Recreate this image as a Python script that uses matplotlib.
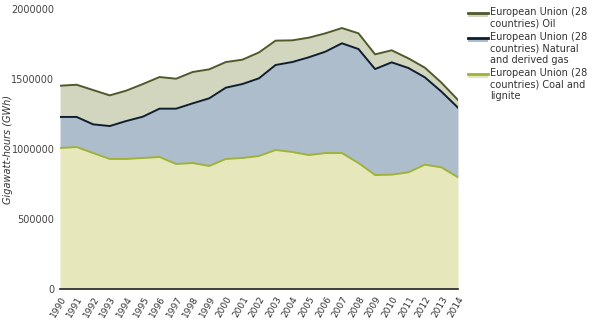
import matplotlib
matplotlib.use("Agg")
import matplotlib.pyplot as plt
from matplotlib.patches import Rectangle
from matplotlib.lines import Line2D
import numpy as np

years = list(range(1990, 2015))

# Gross electricity generation by fuel, EU-28 (GWh)
coal = [1007000, 1014000, 971000, 929000, 929000, 936000, 943000, 893000, 900000,
        879000, 929000, 936000, 950000, 993000, 979000, 957000, 971000, 971000,
        900000, 814000, 817000, 833000, 888000, 869000, 798000]
gas = [222000, 215000, 205000, 235000, 271000, 295000, 345000, 395000, 426000,
       483000, 509000, 528000, 555000, 607000, 642000, 698000, 724000, 784000,
       814000, 757000, 802000, 746000, 624000, 541000, 497000]
oil = [223000, 230000, 245000, 219000, 217000, 233000, 226000, 214000, 224000,
       207000, 183000, 174000, 185000, 174000, 155000, 140000, 131000, 109000,
       112000, 105000, 86000, 69000, 69000, 64000, 55000]

labels = ["European Union (28\ncountries) Oil",
          "European Union (28\ncountries) Natural\nand derived gas",
          "European Union (28\ncountries) Coal and\nlignite"]
y_label = "Gigawatt-hours (GWh)"

fill_cols = {"coal": "#e6e8bb", "gas": "#aebdcc", "oil": "#d3d6bf"}
line_cols = {"coal": "#9fb33a", "gas": "#0e1e30", "oil": "#4e5a2a"}

W, H = 600, 333
plt.rcParams["font.family"] = ["DejaVu Sans"]
fig = plt.figure(figsize=(W / 100, H / 100), dpi=100)
ax = fig.add_axes([60 / W, 1 - 289 / H, 398 / W, 280 / H])

x = np.array(years)
c = np.array(coal)
g = c + np.array(gas)
o = g + np.array(oil)

ax.fill_between(x, 0, c, color=fill_cols["coal"], lw=0)
ax.fill_between(x, c, g, color=fill_cols["gas"], lw=0)
ax.fill_between(x, g, o, color=fill_cols["oil"], lw=0)
ax.plot(x, c, color=line_cols["coal"], lw=1.4)
ax.plot(x, g, color=line_cols["gas"], lw=1.4)
ax.plot(x, o, color=line_cols["oil"], lw=1.4)

ax.set_xlim(1990, 2014)
ax.set_ylim(0, 2000000)
ax.set_xticks(years)
ax.set_xticklabels([str(y) for y in years], rotation=60, ha="right",
                   rotation_mode="anchor", fontsize=6.5, color="#333333")
ax.set_yticks([0, 500000, 1000000, 1500000, 2000000])
ax.set_yticklabels(["0", "500000", "1000000", "1500000", "2000000"],
                   fontsize=7, color="#444444")
ax.tick_params(axis="both", length=0, pad=4)
for side in ("top", "right", "left"):
    ax.spines[side].set_visible(False)
ax.spines["bottom"].set_color("#222222")
ax.spines["bottom"].set_linewidth(1.2)

fig.text(8 / W, 1 - 149 / H, y_label, rotation=90, ha="center", va="center",
         fontsize=7, style="italic", color="#333333")

# Legend drawn in figure pixel coordinates
keys = ["oil", "gas", "coal"]
tops = [13, 38, 74]
for k, lab, t in zip(keys, labels, tops):
    y_line = 1 - t / H
    fig.add_artist(Rectangle((468 / W, 1 - (t + 4) / H), 20 / W, 4 / H,
                             transform=fig.transFigure, facecolor=fill_cols[k],
                             edgecolor="none"))
    fig.add_artist(Line2D([468 / W, 488 / W], [y_line, y_line],
                          transform=fig.transFigure, color=line_cols[k], lw=2))
    fig.text(490 / W, 1 - (t - 6) / H, lab, ha="left", va="top", fontsize=7,
             color="#333333", linespacing=1.2)

fig.savefig("out.png", dpi=100)
